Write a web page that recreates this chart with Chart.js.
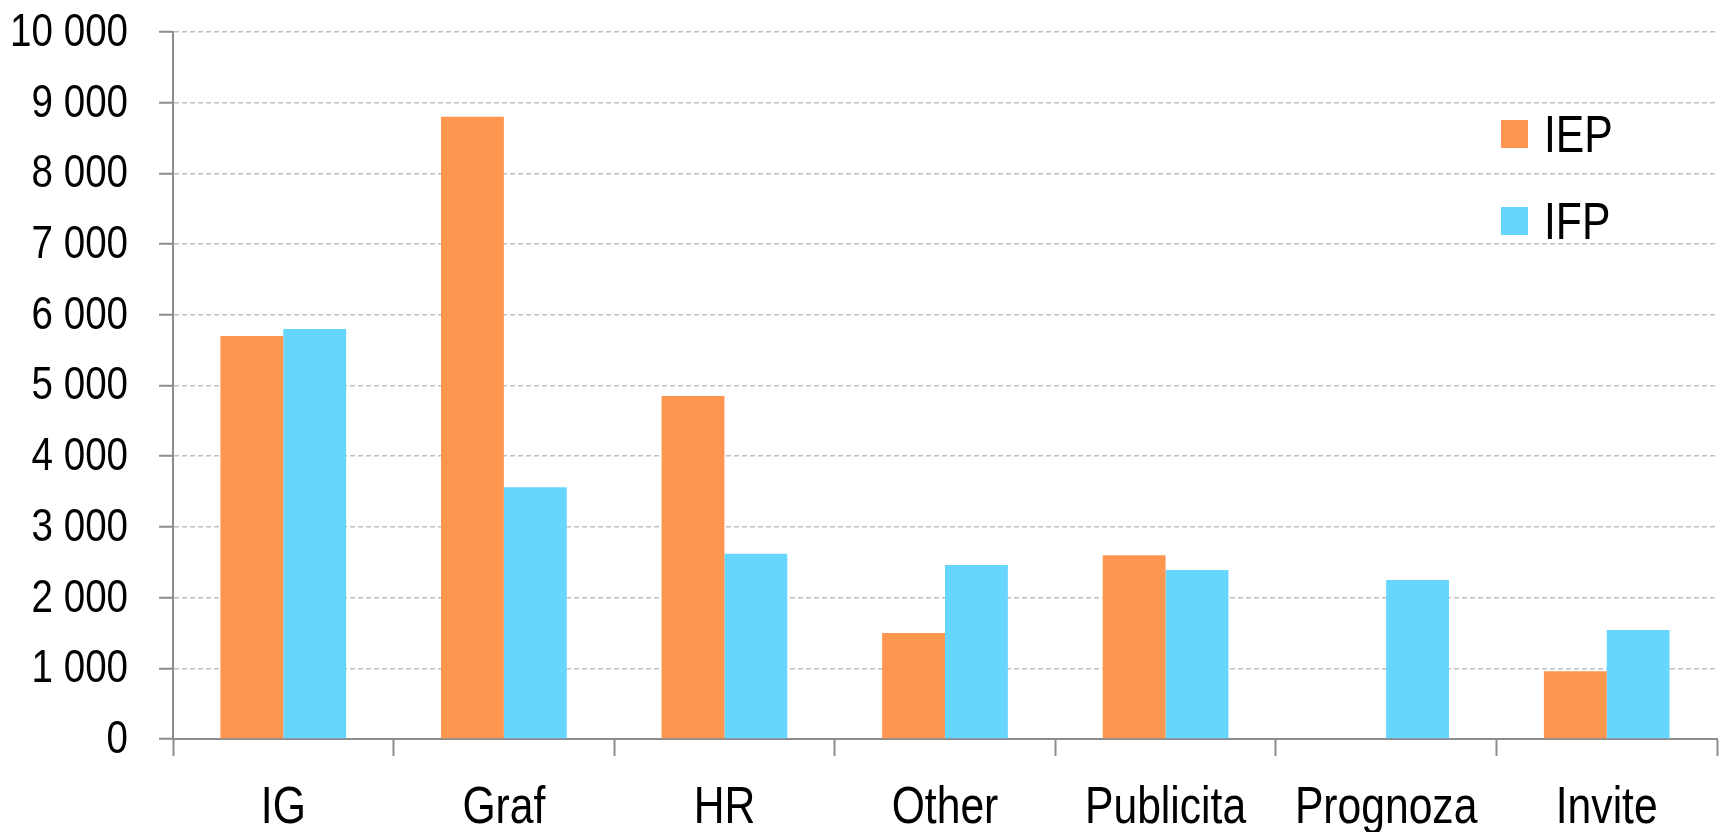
<!DOCTYPE html>
<html>
<head>
<meta charset="utf-8">
<script src="https://cdn.jsdelivr.net/npm/chart.js@4.4.1/dist/chart.umd.min.js"></script>
<style>
  html, body { margin: 0; padding: 0; background: #fff; }
  #wrap { width: 1721px; height: 832px; }
</style>
</head>
<body>
<div id="wrap"><canvas id="barChart" width="1721" height="832"></canvas></div>
<script>
const categories = ['IG', 'Graf', 'HR', 'Other', 'Publicita', 'Prognoza', 'Invite'];
const iepValues = [5700, 8800, 4850, 1500, 2600, null, 960];
const ifpValues = [5800, 3560, 2620, 2460, 2390, 2250, 1540];
const seriesNames = ['IEP', 'IFP'];
const seriesColors = ['#FF9650', '#66D6FF'];

const FONT = '"Liberation Sans", Arial, sans-serif';
const NARROW = 0.82; // no Arial Narrow here, squeeze the regular face

// thousands with a plain space, like "10 000"
function formatTick(v) {
    return String(v).replace(/\B(?=(\d{3})+(?!\d))/g, ' ');
}

function narrowText(ctx, text, x, y, align) {
    const w = ctx.measureText(text).width * NARROW;
    let left = x;
    if (align === 'right') left = x - w;
    if (align === 'center') left = x - w / 2;
    ctx.save();
    ctx.translate(left, y);
    ctx.scale(NARROW, 1);
    ctx.textAlign = 'left';
    ctx.fillText(text, 0, 0);
    ctx.restore();
}

// tick labels + legend, placed from the chart's own scales
const narrowLabels = {
    id: 'narrowLabels',
    afterDraw(chart) {
        const ctx = chart.ctx;
        const area = chart.chartArea;
        const xs = chart.scales.x;
        const ys = chart.scales.y;
        ctx.save();
        ctx.fillStyle = '#000';

        ctx.font = '47px ' + FONT;
        ctx.textBaseline = 'middle';
        ys.ticks.forEach((t, i) => {
            narrowText(ctx, formatTick(t.value), area.left - 45, ys.getPixelForTick(i) + 1, 'right');
        });

        ctx.font = '52px ' + FONT;
        ctx.textBaseline = 'alphabetic';
        xs.ticks.forEach((t, i) => {
            narrowText(ctx, categories[i], xs.getPixelForTick(i), area.bottom + 84, 'center');
        });

        // legend inside the plot, top right
        const boxX = area.right - 216;
        const rows = [area.top + 102, area.top + 189];
        chart.data.datasets.forEach((ds, i) => {
            ctx.fillStyle = ds.backgroundColor;
            ctx.fillRect(boxX, rows[i] - 14, 27, 28);
            ctx.fillStyle = '#000';
            narrowText(ctx, ds.label, boxX + 43, rows[i] + 18, 'left');
        });
        ctx.restore();
    }
};

new Chart(document.getElementById('barChart'), {
    type: 'bar',
    plugins: [narrowLabels],
    data: {
        labels: categories,
        datasets: [
            { label: seriesNames[0], data: iepValues, backgroundColor: seriesColors[0] },
            { label: seriesNames[1], data: ifpValues, backgroundColor: seriesColors[1] }
        ]
    },
    options: {
        responsive: false,
        animation: false,
        devicePixelRatio: 1,
        categoryPercentage: 0.57,
        barPercentage: 1.0,
        layout: { padding: { top: 32, right: 4, left: 0, bottom: 0 } },
        plugins: {
            legend: { display: false },
            tooltip: { enabled: false }
        },
        scales: {
            x: {
                offset: true,
                grid: {
                    offset: true,
                    drawOnChartArea: false,
                    drawTicks: true,
                    tickLength: 17,
                    tickColor: '#8c8c8c',
                    tickWidth: 2
                },
                border: { color: '#8c8c8c', width: 2 },
                ticks: { display: false, autoSkip: false },
                afterFit(scale) { scale.height = 93; }
            },
            y: {
                min: 0,
                max: 10000,
                grid: {
                    color: '#c0c0c0',
                    lineWidth: 1.5,
                    tickLength: 14,
                    tickColor: '#8c8c8c',
                    tickWidth: 2,
                    tickBorderDash: [1, 0]
                },
                border: { color: '#8c8c8c', width: 2, dash: [5, 3] },
                ticks: { display: false, stepSize: 1000 },
                afterFit(scale) { scale.width = 173; }
            }
        }
    }
});
</script>
</body>
</html>
